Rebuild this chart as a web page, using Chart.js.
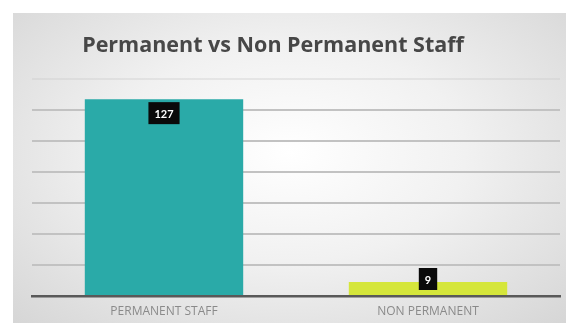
<!DOCTYPE html>
<html>
<head>
<meta charset="utf-8">
<script src="https://cdn.jsdelivr.net/npm/chart.js@4.4.1/dist/chart.umd.min.js"></script>
<style>
  html, body { margin: 0; padding: 0; background: #fff; }
  #panel {
    position: absolute; left: 13px; top: 13px; width: 553px; height: 310px;
    background: radial-gradient(ellipse at 50% 45%, #ffffff 0%, #f1f1f1 45%, #d6d6d6 100%);
  }
  #staffChart { display: block; }
</style>
</head>
<body>
<div id="panel"><canvas id="staffChart" width="553" height="310"></canvas></div>
<script>
  const chartTitle = 'Permanent vs Non Permanent Staff';
  const categories = ['PERMANENT STAFF', 'NON PERMANENT'];
  const staffCounts = [127, 9];
  const barColors = ['#2aaaa8', '#d5e63b'];

  // title sits a little left of the plot centre
  const titleText = {
    id: 'titleText',
    afterDraw(chart) {
      const ctx = chart.ctx;
      ctx.save();
      ctx.font = 'bold 21.5px "Open Sans", sans-serif';
      ctx.fillStyle = '#474747';
      ctx.textAlign = 'center';
      ctx.textBaseline = 'middle';
      ctx.fillText(chartTitle, 260, 33);
      ctx.restore();
    }
  };

  // dark boxes with the value, sitting just inside the top of each bar
  const valueBoxes = {
    id: 'valueBoxes',
    afterDatasetsDraw(chart) {
      const ctx = chart.ctx;
      const meta = chart.getDatasetMeta(0);
      ctx.save();
      ctx.font = 'bold 11px Lato, sans-serif';
      ctx.textAlign = 'center';
      ctx.textBaseline = 'middle';
      meta.data.forEach((bar, i) => {
        const text = String(staffCounts[i]);
        const w = ctx.measureText(text).width + 12;
        const h = 22;
        const cy = Math.min(bar.y + 14, bar.base - 16);
        ctx.fillStyle = '#0a0a0a';
        ctx.fillRect(bar.x - w / 2, cy - h / 2, w, h);
        ctx.fillStyle = '#ffffff';
        ctx.fillText(text, bar.x, cy + 1);
      });
      ctx.restore();
    }
  };

  new Chart(document.getElementById('staffChart'), {
    type: 'bar',
    data: {
      labels: categories,
      datasets: [{
        data: staffCounts,
        backgroundColor: barColors,
        barPercentage: 0.6,
        categoryPercentage: 1
      }]
    },
    options: {
      responsive: false,
      animation: false,
      layout: { padding: { left: 19, right: 6, top: 66, bottom: 0 } },
      plugins: {
        legend: { display: false },
        tooltip: { enabled: false },
        title: { display: false }
      },
      scales: {
        x: {
          grid: { display: false, drawTicks: false },
          border: { color: '#595959', width: 2.5 },
          ticks: {
            color: '#8a8a8a',
            font: { family: '"Open Sans", sans-serif', size: 12 },
            padding: 8
          },
          afterFit: (scale) => { scale.height = 27; }
        },
        y: {
          min: 0,
          max: 140,
          ticks: { display: false, stepSize: 20 },
          border: { display: false },
          grid: {
            color: (c) => c.tick.value === 140 ? 'rgba(200,200,200,0.35)' : '#c2c2c2',
            lineWidth: 2,
            drawTicks: false
          }
        }
      }
    },
    plugins: [valueBoxes, titleText]
  });
</script>
</body>
</html>
